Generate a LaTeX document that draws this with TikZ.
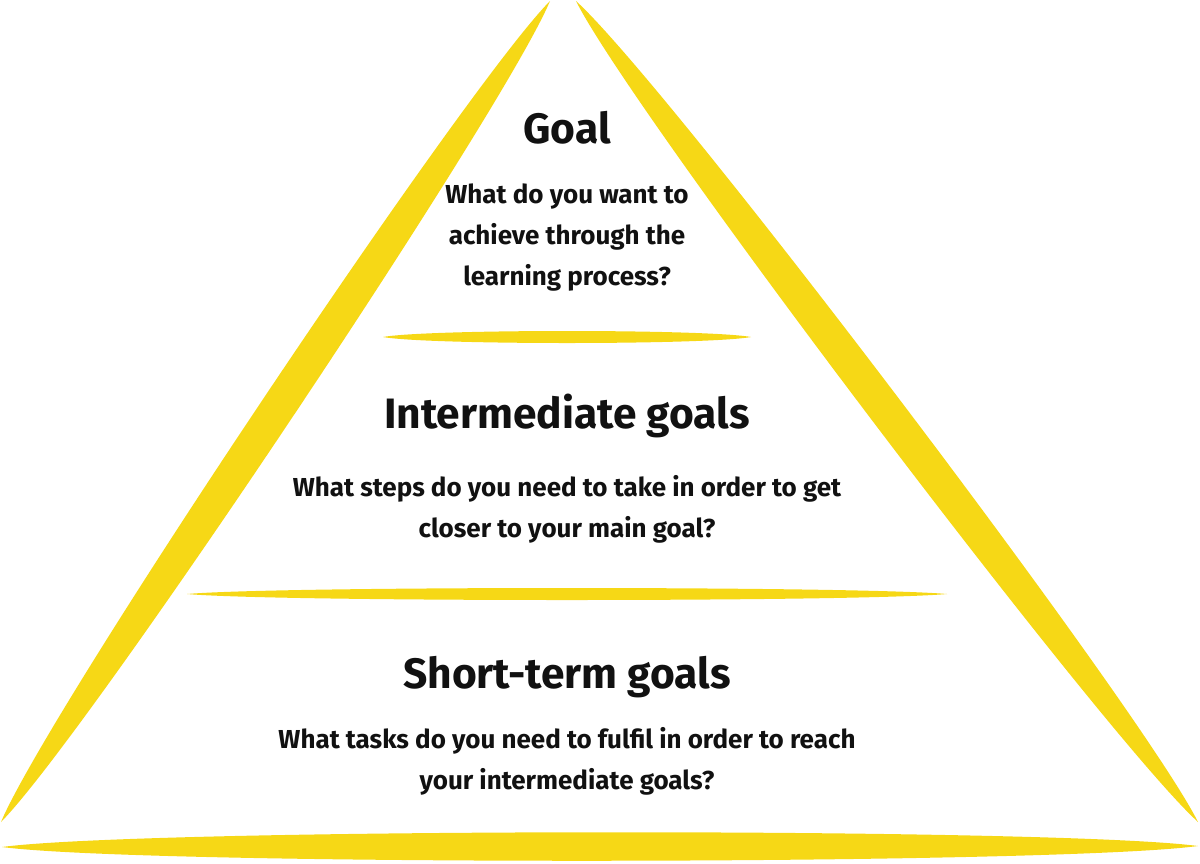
\documentclass[tikz,border=0pt]{standalone}
\usepackage{fontspec}
\setmainfont{Fira Sans}
\usetikzlibrary{calc}
\definecolor{brushyellow}{RGB}{246,216,22}
\definecolor{inkblack}{RGB}{17,17,17}
% brush stroke: tip, tip, bulge
\newcommand{\brush}[3]{%
  \fill[brushfill] (#1) .. controls ($(#1)!0.12!(#2)!#3!90:(#2)$) and ($(#2)!0.12!(#1)!#3!-90:(#1)$) .. (#2)
    .. controls ($(#2)!0.12!(#1)!#3!90:(#1)$) and ($(#1)!0.12!(#2)!#3!-90:(#2)$) .. cycle;}
\tikzset{
  brushfill/.style={fill=brushyellow},
  heading/.style={anchor=center, text=inkblack, font=\bfseries\fontsize{42.5}{50}\selectfont},
  question/.style={anchor=center, align=center, text=inkblack, font=\bfseries\fontsize{26}{41}\selectfont}
}
\begin{document}
\begin{tikzpicture}[x=1pt,y=-1pt]
        \useasboundingbox (0,0) rectangle (1200,863);
        % triangle sides
        \brush{550,1}{1,822}{23pt}
        \brush{576,1}{1198,822}{23pt}
        % dividers
        \brush{383,337}{751,337}{8pt}
        \brush{187,594}{947,594}{8pt}
        \brush{2,847}{1198,846}{19pt}
        % texts
        \node [heading] (goal) at (567,128) {Goal};
        \node [question] (goalq) at (567,238) {What do you want to\\achieve through the\\learning process?};
        \node [heading] (inter) at (567,416) {Intermediate goals};
        \node [question] (interq) at (567,509) {What steps do you need to take in order to get\\closer to your main goal?};
        \node [heading] (short) at (567,677) {Short-term goals};
        \node [question] (shortq) at (567,761) {What tasks do you need to fulfil in order to reach\\your intermediate goals?};
    \end{tikzpicture}
\end{document}
